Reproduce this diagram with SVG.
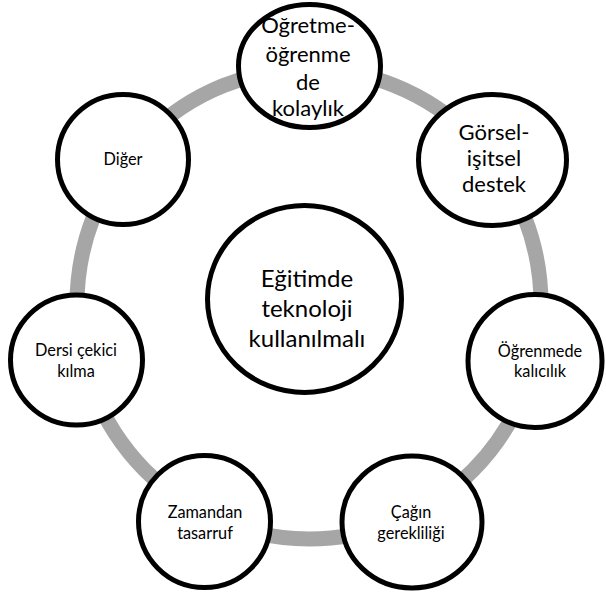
<svg xmlns="http://www.w3.org/2000/svg" width="606" height="594" viewBox="0 0 606 594">
<style>
.node{fill:#ffffff;stroke:#000000;stroke-width:5}
.ring{fill:none;stroke:#a6a6a6;stroke-width:15}
text{font-family:Lato,"Liberation Sans",sans-serif;fill:#000000;text-anchor:middle}
.sm{font-size:16.3px}
.md{font-size:22px}
.lg{font-size:24px}
</style>
<rect width="606" height="594" fill="#ffffff"/>
<g id="connectors">
<ellipse class="ring" cx="309" cy="304" rx="232" ry="235"/>
</g>
<g id="center">
<ellipse class="node" cx="304.5" cy="299" rx="97" ry="93.5"/>
<text class="lg" x="307" y="287">Eğitimde</text>
<text class="lg" x="307" y="317">teknoloji</text>
<text class="lg" x="307" y="347">kullanılmalı</text>
</g>
<g id="n1">
<ellipse class="node" cx="309.5" cy="66" rx="71" ry="61.5"/>
<text class="md" x="308" y="33">Öğretme-</text>
<text class="md" x="308" y="62">öğrenme</text>
<text class="md" x="308" y="90">de</text>
<text class="md" x="308" y="116">kolaylık</text>
</g>
<g id="n2">
<ellipse class="node" cx="492.5" cy="160" rx="74" ry="65.5"/>
<text class="md" x="494" y="140">Görsel-</text>
<text class="md" x="494" y="166">işitsel</text>
<text class="md" x="494" y="192">destek</text>
</g>
<g id="n3">
<ellipse class="node" cx="535" cy="361" rx="67" ry="66.5"/>
<text class="sm" x="540" y="357">Öğrenmede</text>
<text class="sm" x="540" y="377">kalıcılık</text>
</g>
<g id="n4">
<ellipse class="node" cx="412" cy="522" rx="70" ry="66"/>
<text class="sm" x="411" y="518">Çağın</text>
<text class="sm" x="411" y="539">gerekliliği</text>
</g>
<g id="n5">
<ellipse class="node" cx="204.5" cy="521.5" rx="66" ry="66"/>
<text class="sm" x="205" y="518">Zamandan</text>
<text class="sm" x="205" y="539">tasarruf</text>
</g>
<g id="n6">
<ellipse class="node" cx="76.5" cy="360" rx="66" ry="65"/>
<text class="sm" x="76" y="356">Dersi çekici</text>
<text class="sm" x="76" y="377">kılma</text>
</g>
<g id="n7">
<ellipse class="node" cx="123" cy="159.5" rx="65.5" ry="65"/>
<text class="sm" x="123" y="165">Diğer</text>
</g>
</svg>
